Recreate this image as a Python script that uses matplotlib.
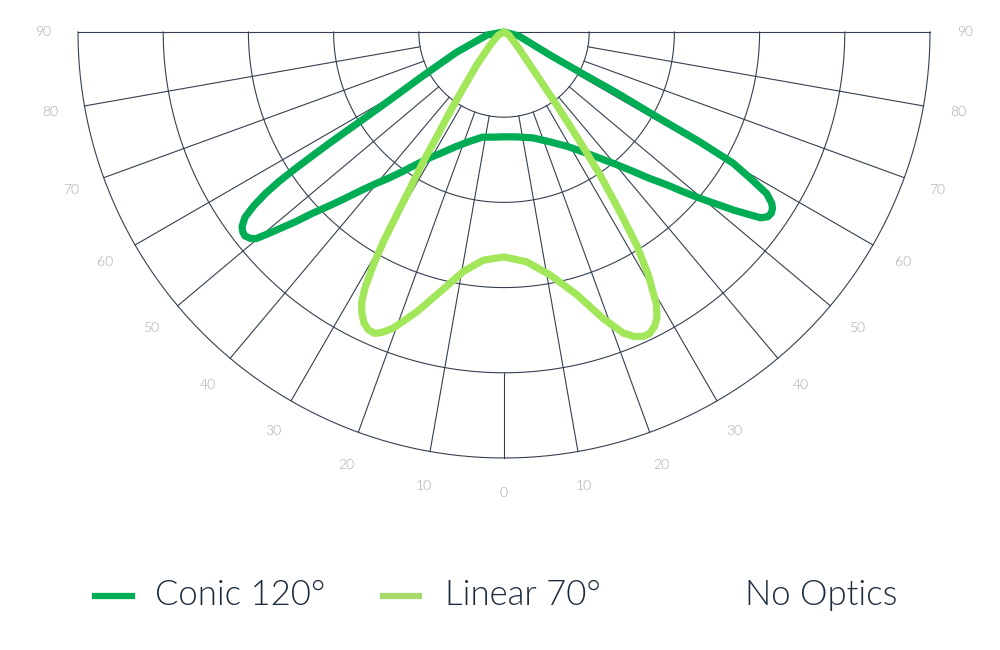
import numpy as np
import matplotlib
matplotlib.use("Agg")
import matplotlib.pyplot as plt
from matplotlib.lines import Line2D

# angles in degrees (0 = straight down, negative = left), intensity in grid units (ring = 100)
conic_ang = [-90, -80, -66.8, -61.6, -59.2, -58.2, -57.5, -56.8, -56.4, -55.9, -55.2, -54.4,
             -53.4, -52.6, -51.8, -50.9, -50.2, -49.6, -48.8, -47.7, -46.6, -45.2, -43.6,
             -41.9, -40.2, -38.2, -36.1, -33.6, -30.7, -27.1, -22.8, -17.7, -11.6, -5.5, 0,
             6.9, 15.4, 22.8, 28.8, 33.5, 37.2, 40.3, 42.8, 44.9, 46.8, 48.3, 49.7, 51,
             52.2, 53.4, 54.1, 55.0, 55.9, 56.7, 57.4, 58.4, 59.3, 60.2, 60.7, 61.0, 61.6,
             62, 63.4, 75, 90]
conic_val = [0, 20, 61, 108, 156, 196, 243, 292, 317, 338, 358, 374,
             383, 386, 387, 384, 379, 367, 351, 331, 310, 290, 269,
             249, 233, 218, 203, 187, 172, 159, 146, 135, 126, 124, 123,
             124, 129, 140, 153, 169, 186, 204, 223, 243, 262, 282, 302, 321,
             341, 360, 372, 378, 379, 377, 373, 362, 336, 310, 263, 198, 153,
             106, 60, 18, 0]

linear_ang = [-90, -60, -47, -39.6, -35.9, -34.1, -32.7, -31.9, -31, -30.4, -29.9, -29.3,
              -28.5, -27.8, -26.9, -25.7, -24.5, -23.2, -22, -20.5, -17.3, -13.8, -9.6,
              -5.2, 0,
              5.6, 10.7, 15.5, 19.1, 21.6, 23.2, 24.6, 25.8, 27.1, 28.2, 29.2, 30.7, 31.9,
              32.8, 33.9, 34.7, 35.8, 37.3, 44, 60, 90]
linear_val = [0, 8, 22, 50, 82, 113, 146, 179, 214, 249, 284, 313,
              342, 358, 369, 379, 384, 385, 380, 371, 344, 314, 285,
              269, 264,
              271, 290, 320, 356, 380, 389, 393, 393, 388, 380, 367, 332, 295,
              251, 202, 157, 106, 63, 21, 6, 0]

rings = [100, 200, 300, 400, 500]
spoke_ang = list(range(-90, 91, 10))
tick_labels = [str(abs(a)) for a in spoke_ang]

grid_col = "#34404f"
label_col = "#a3a8ae"
text_col = "#1c2b3b"
conic_col = "#00ad55"
linear_col = "#a2e65a"

plt.rcParams["font.family"] = ["Lato", "DejaVu Sans"]

fig = plt.figure(figsize=(10, 6.5), dpi=100)
# polar wedge box is square, the half circle sits in its middle
ax = fig.add_axes([0.078, -0.0323, 0.852, 1.3108], projection="polar")
ax.set_theta_zero_location("S")
ax.set_thetamin(-90)
ax.set_thetamax(90)
ax.set_rlim(0, 500)
ax.axis("off")

arc = np.deg2rad(np.linspace(-90, 90, 361))
for r in rings:
    ax.plot(arc, [r] * len(arc), color=grid_col, lw=0.8, clip_on=False)

for a in spoke_ang:
    if abs(a) == 90:
        r0 = 0
    elif a == 0:
        r0 = 400
    else:
        r0 = 100
    ax.plot([np.deg2rad(a)] * 2, [r0, 500], color=grid_col, lw=0.8, clip_on=False)

for a, lab in zip(spoke_ang, tick_labels):
    ax.text(np.deg2rad(a), 541, lab, ha="center", va="center", fontsize=10,
            color=label_col, fontweight=300)

ax.plot(np.deg2rad(conic_ang), conic_val, color=conic_col, lw=5.2,
        solid_joinstyle="round", solid_capstyle="round", clip_on=False)
ax.plot(np.deg2rad(linear_ang), linear_val, color=linear_col, lw=5.2,
        solid_joinstyle="round", solid_capstyle="round", clip_on=False)

# legend
ly = (650 - 596) / 650
fig.add_artist(Line2D([0.095, 0.132], [ly, ly], color=conic_col, lw=4.5,
                      transform=fig.transFigure))
fig.add_artist(Line2D([0.383, 0.419], [ly, ly], color="#a6d86a", lw=4.5,
                      transform=fig.transFigure))
by = (650 - 605) / 650
fig.text(0.155, by, "Conic 120°", fontsize=25, color=text_col, va="baseline",
         fontweight=300)
fig.text(0.445, by, "Linear 70°", fontsize=25, color=text_col, va="baseline",
         fontweight=300)
fig.text(0.745, by, "No Optics", fontsize=25, color=text_col, va="baseline",
         fontweight=300)

fig.savefig("out.png", dpi=100)
